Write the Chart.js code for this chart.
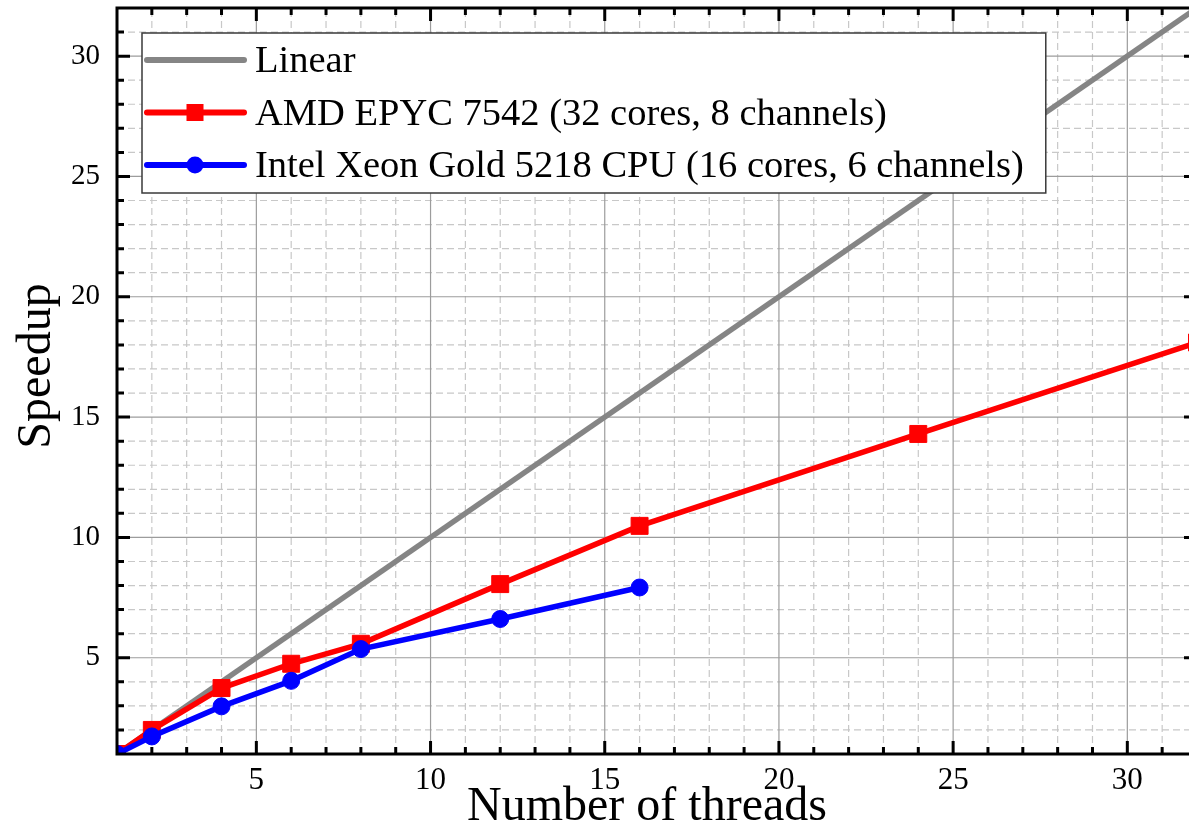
<!DOCTYPE html>
<html>
<head>
<meta charset="utf-8">
<script src="https://cdn.jsdelivr.net/npm/chart.js@4.4.1/dist/chart.umd.min.js"></script>
<style>
  html, body { margin: 0; padding: 0; background: #fff; overflow: hidden; }
  #wrap { width: 1197px; height: 826px; }
</style>
</head>
<body>
<div id="wrap"><canvas id="speedup" width="1197" height="826"></canvas></div>
<script>
// Thread counts and measured speedups
const linearThreads = [1, 32];
const linearSpeedup = [1, 32];

const amdThreads = [1, 2, 4, 6, 8, 12, 16, 24, 32];
const amdSpeedup = [1, 2.0, 3.74, 4.75, 5.58, 8.06, 10.48, 14.3, 18.1];

const intelThreads = [1, 2, 4, 6, 8, 12, 16];
const intelSpeedup = [1, 1.73, 2.98, 4.04, 5.36, 6.61, 7.92];

const seriesLabels = [
  'Linear',
  'AMD EPYC 7542 (32 cores, 8 channels)',
  'Intel Xeon Gold 5218 CPU (16 cores, 6 channels)'
];
const xTitle = 'Number of threads';
const yTitle = 'Speedup';

// Both axes share the same range; labelled ticks every 5, minor ticks every 1
const axisMin = 1;
const axisMax = 32;
const majorStep = 5;
const tickValues = Array.from({ length: axisMax - axisMin + 1 }, (_, i) => axisMin + i);

const SERIF = '"Liberation Serif", "DejaVu Serif", serif';

const toPoints = (xs, ys) => xs.map((x, i) => ({ x: x, y: ys[i] }));
const isMajor = v => v % majorStep === 0;
const innerTicks = tickValues.filter(v => v > axisMin && v < axisMax);

// Grid: solid lines at major ticks, dashed at the minor ones
const gridPlugin = {
  id: 'grid',
  beforeDatasetsDraw(chart) {
    const { ctx, chartArea: a, scales: { x, y } } = chart;
    ctx.save();
    ctx.lineWidth = 1.2;
    const line = (x1, y1, x2, y2, major) => {
      ctx.strokeStyle = major ? '#9c9c9c' : '#c8c8c8';
      ctx.setLineDash(major ? [] : [7, 4]);
      ctx.beginPath();
      ctx.moveTo(x1, y1);
      ctx.lineTo(x2, y2);
      ctx.stroke();
    };
    // minor first so the solid major lines sit on top
    [false, true].forEach(pass => {
      innerTicks.forEach(v => {
        if (isMajor(v) !== pass) return;
        const px = x.getPixelForValue(v);
        line(px, a.bottom, px, a.top, pass);
        const py = y.getPixelForValue(v);
        line(a.left, py, a.right, py, pass);
      });
    });
    ctx.restore();
  }
};

// Boxed legend in the upper-left corner of the plot
const legendPlugin = {
  id: 'boxLegend',
  afterDatasetsDraw(chart) {
    const { ctx, chartArea: a } = chart;
    ctx.save();
    ctx.font = '38.5px ' + SERIF;
    const left = a.left + 25;
    const top = a.top + 25;
    const textX = left + 113;
    const rowH = 52.5;
    let maxW = 0;
    chart.data.datasets.forEach(ds => { maxW = Math.max(maxW, ctx.measureText(ds.label).width); });
    const w = textX - left + maxW + 22;
    const h = 160;
    ctx.fillStyle = '#ffffff';
    ctx.fillRect(left, top, w, h);
    ctx.strokeStyle = '#3a3a3a';
    ctx.lineWidth = 1.5;
    ctx.strokeRect(left, top, w, h);
    chart.data.datasets.forEach((ds, i) => {
      const cy = top + 27 + i * rowH;
      ctx.strokeStyle = ds.borderColor;
      ctx.lineWidth = 6;
      ctx.lineCap = 'round';
      ctx.beginPath();
      ctx.moveTo(left + 5, cy);
      ctx.lineTo(left + 102, cy);
      ctx.stroke();
      const mx = left + 53;
      ctx.fillStyle = ds.borderColor;
      if (ds.pointStyle === 'rect') {
        ctx.fillRect(mx - 8.5, cy - 8.5, 17, 17);
      } else if (ds.pointRadius > 0) {
        ctx.beginPath();
        ctx.arc(mx, cy, 8.5, 0, Math.PI * 2);
        ctx.fill();
      }
      ctx.fillStyle = '#000';
      ctx.textAlign = 'left';
      ctx.textBaseline = 'middle';
      ctx.fillText(ds.label, textX, cy + 2);
    });
    ctx.restore();
  }
};

// Framed axes with inward tick marks on all four sides, plus axis titles
const framePlugin = {
  id: 'frame',
  afterDraw(chart) {
    const { ctx, chartArea: a, scales: { x, y } } = chart;
    ctx.save();
    ctx.strokeStyle = '#000';
    ctx.lineWidth = 3;
    ctx.beginPath();
    innerTicks.forEach(v => {
      const len = isMajor(v) ? 13 : 7;
      const px = x.getPixelForValue(v);
      ctx.moveTo(px, a.bottom); ctx.lineTo(px, a.bottom - len);
      ctx.moveTo(px, a.top); ctx.lineTo(px, a.top + len);
      const py = y.getPixelForValue(v);
      ctx.moveTo(a.left, py); ctx.lineTo(a.left + len, py);
      ctx.moveTo(a.right, py); ctx.lineTo(a.right - len, py);
    });
    ctx.stroke();
    ctx.strokeRect(a.left, a.top, a.right - a.left, a.bottom - a.top);

    ctx.fillStyle = '#000';
    ctx.font = '48px ' + SERIF;
    ctx.textAlign = 'center';
    ctx.textBaseline = 'alphabetic';
    ctx.fillText(xTitle, (a.left + a.right) / 2 - 10, 820);
    ctx.translate(50, (a.top + a.bottom) / 2 - 15);
    ctx.rotate(-Math.PI / 2);
    ctx.fillText(yTitle, 0, 0);
    ctx.restore();
  }
};

const tickLabel = v => (isMajor(v) ? String(v) : null);
const useAllTicks = scale => { scale.ticks = tickValues.map(v => ({ value: v })); };
const noEdgePadding = scale => {
  scale.paddingTop = 0;
  scale.paddingBottom = 0;
  scale.paddingLeft = 0;
  scale.paddingRight = 0;
};

new Chart(document.getElementById('speedup'), {
  type: 'line',
  data: {
    datasets: [
      {
        label: seriesLabels[0],
        data: toPoints(linearThreads, linearSpeedup),
        borderColor: '#858585',
        backgroundColor: '#858585',
        borderWidth: 5.5,
        pointRadius: 0,
        order: 3
      },
      {
        label: seriesLabels[1],
        data: toPoints(amdThreads, amdSpeedup),
        borderColor: '#ff0000',
        backgroundColor: '#ff0000',
        borderWidth: 5.5,
        pointStyle: 'rect',
        pointRadius: 12,
        pointBorderWidth: 1,
        order: 2
      },
      {
        label: seriesLabels[2],
        data: toPoints(intelThreads, intelSpeedup),
        borderColor: '#0000ff',
        backgroundColor: '#0000ff',
        borderWidth: 5.5,
        pointStyle: 'circle',
        pointRadius: 8.5,
        pointBorderWidth: 1,
        order: 1
      }
    ]
  },
  options: {
    responsive: false,
    animation: false,
    devicePixelRatio: 1,
    clip: 0,
    layout: { autoPadding: false, padding: { top: 8, left: 0, right: 0, bottom: 0 } },
    plugins: {
      legend: { display: false },
      tooltip: { enabled: false }
    },
    elements: { line: { tension: 0 } },
    scales: {
      x: {
        type: 'linear',
        min: axisMin,
        max: axisMax,
        grid: { display: false, drawTicks: false },
        border: { display: false },
        afterBuildTicks: useAllTicks,
        ticks: {
          autoSkip: false,
          maxRotation: 0,
          padding: 8,
          color: '#000',
          font: { family: SERIF, size: 31 },
          callback: tickLabel
        },
        afterFit(scale) { scale.height = 72; noEdgePadding(scale); }
      },
      y: {
        type: 'linear',
        min: axisMin,
        max: axisMax,
        grid: { display: false, drawTicks: false },
        border: { display: false },
        afterBuildTicks: useAllTicks,
        ticks: {
          autoSkip: false,
          padding: 17,
          color: '#000',
          font: { family: SERIF, size: 29 },
          callback: tickLabel
        },
        afterFit(scale) { scale.width = 117; noEdgePadding(scale); }
      }
    }
  },
  plugins: [gridPlugin, legendPlugin, framePlugin]
});
</script>
</body>
</html>
